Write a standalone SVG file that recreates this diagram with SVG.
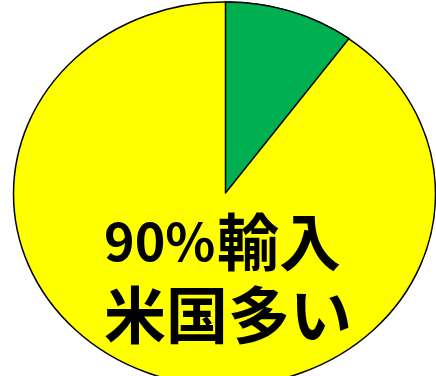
<svg xmlns="http://www.w3.org/2000/svg" width="436" height="376" viewBox="0 0 436 376">
<style>
.pie{stroke:#000;stroke-width:1.5;stroke-linejoin:round}
.lbl{font-family:"Noto Sans CJK JP","Noto Sans",sans-serif;font-weight:bold;fill:#000}
</style>
<rect width="436" height="376" fill="#fff"/>
<g id="pie-major">
<ellipse class="pie" cx="224.5" cy="194" rx="211" ry="192" fill="#FFFF00"/>
</g>
<g id="pie-minor">
<path class="pie" d="M225.5,193 L225.5,2 A211,192 0 0 1 349,38.5 Z" fill="#00B050"/>
</g>
<g id="label">
<text class="lbl" y="261"><tspan x="104" font-size="52">90%</tspan><tspan x="217" y="266" font-size="62">輸入</tspan></text>
<text class="lbl" x="104" y="339" font-size="62">米国多い</text>
</g>
</svg>
